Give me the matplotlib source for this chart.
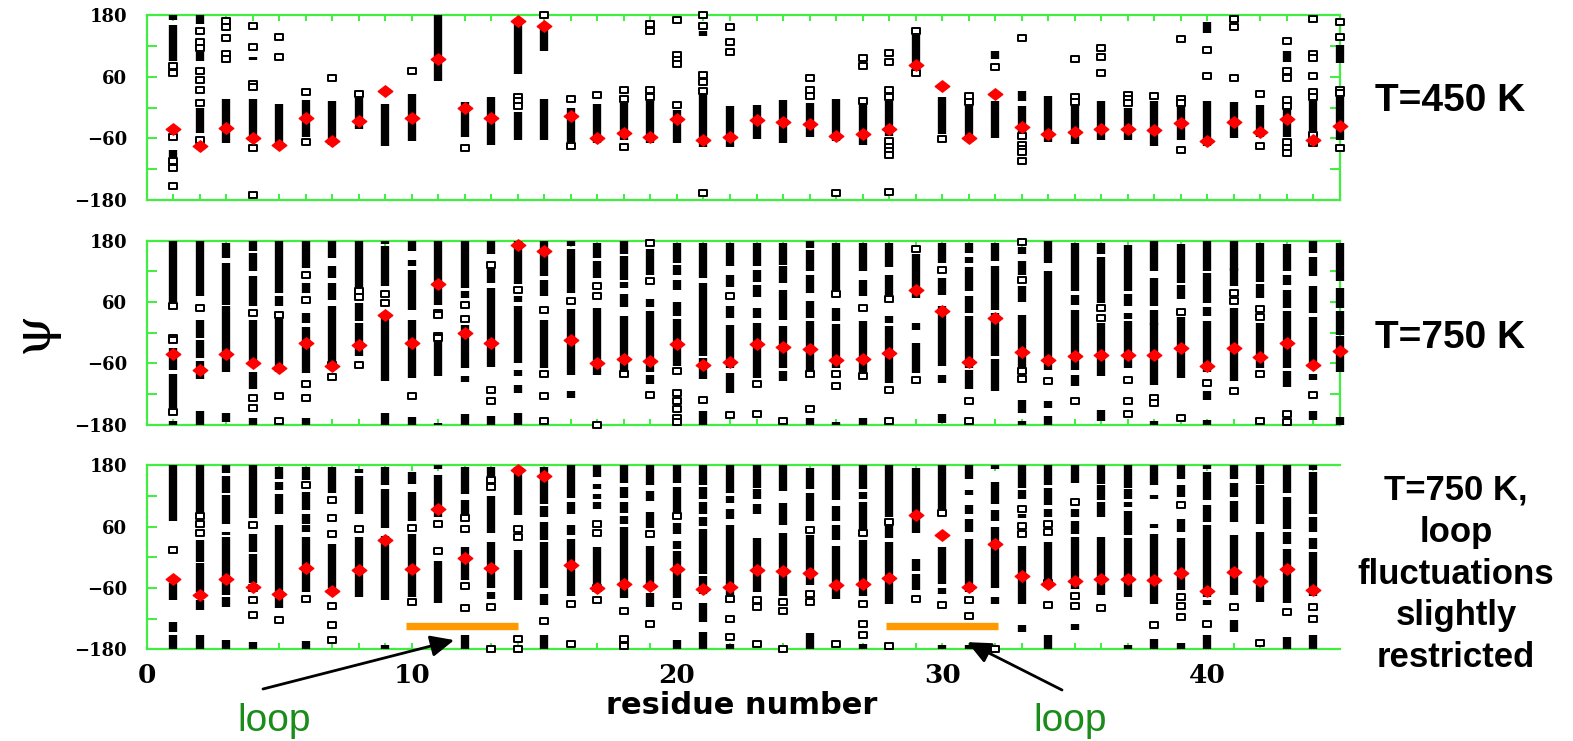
import matplotlib
matplotlib.use('Agg')
import matplotlib.pyplot as plt
from matplotlib.path import Path

# ---------------- data (psi angles in degrees) ----------------
residues_450 = list(range(1, 46))
residues_750 = list(range(1, 46))
residues_750r = list(range(1, 45))

# mean psi (red diamonds)
mean_450 = [-42, -74, -40, -59, -72, -20, -66, -26, 33, -21, 94, 0, -21, 169, 159,
            -16, -60, -50, -57, -22, -63, -58, -24, -29, -32, -55, -52, -41, 83, 42,
            -59, 26, -38, -52, -47, -42, -42, -44, -30, -66, -29, -48, -22, -63, -36]
mean_750 = [-41, -72, -41, -59, -70, -20, -65, -25, 34, -21, 95, -1, -21, 171, 160,
            -15, -59, -51, -56, -23, -63, -57, -23, -28, -31, -54, -51, -40, 84, 43,
            -58, 29, -38, -53, -46, -43, -43, -43, -30, -65, -29, -47, -21, -63, -36]
mean_750r = [-42, -74, -42, -59, -71, -21, -66, -25, 33, -23, 94, -1, -21, 170, 159,
             -16, -60, -53, -56, -23, -62, -58, -25, -27, -31, -55, -52, -40, 83, 43,
             -58, 27, -37, -53, -47, -43, -43, -44, -30, -66, -29, -47, -22, -63]

# sampled psi per residue: (high, low) = densely sampled range, number = single sample
samples_450 = [
    [(180, 170), (160, 90), 80, 68, -58, (-83, -96), -104, -117, -152],
    [(180, 162), 148, 127, 116, (108, 90), 72, 54, 35, 9, (0, -50), -63],
    [169, 156, 135, 105, 94, (16, -70)],
    [159, 118, (98, 92), 45, 40, (16, -63), -79, -170],
    [138, 98, (6, -76)],
    [31, (15, -57), -68],
    [57, (13, -73)],
    [26, (19, -41)],
    [(6, -74)],
    [71, (26, -65)],
    [(180, 52)],
    [(10, -57), -79],
    [(21, -73)],
    [(167, 66), 21, 12, 2, (-8, -63)],
    [180, (157, 109), (17, -63)],
    [17, (0, -68), -74],
    [24, (6, -70)],
    [34, 17, (9, -63), -76],
    [162, 149, 34, 20, (12, -70)],
    [170, 102, 93, 84, 4, (-4, -70)],
    [180, 159, (149, 140), 63, 49, 33, (26, -76), -166],
    [156, 127, 108, (2, -76)],
    [(4, -61)],
    [(15, -70)],
    [57, 34, 23, (9, -57)],
    [(17, -66), -166],
    [96, 81, 13, (7, -72)],
    [107, 89, 34, 20, (12, -55), -65, -77, -85, -93, -165],
    [149, (141, 73), 68],
    [(21, -52), -61],
    [22, 11, (2, -64)],
    [(109, 94), 78, (13, -59)],
    [135, (32, 13), (2, -50), -56, -72, -80, -86, -104],
    [(23, -68)],
    [94, 20, 10, (4, -71)],
    [116, 98, 68, (13, -64)],
    [24, 16, 8, (0, -64)],
    [23, (13, -75)],
    [133, 17, 8, (2, -63), -83],
    [(166, 145), 111, 61, (13, -75)],
    [173, 157, 57, (10, -59)],
    [26, (4, -57), -74],
    [129, (109, 89), 71, 57, 15, 2, (-3, -57), -68, -78, -88],
    [172, 105, 96, 62, 30, 20, (13, -45), -53, -70],
    [167, 138, (122, 86), 35, 29, (21, -63), -79],
]

samples_750 = [
    [(180, 60), 53, -10, -15, (-29, -72), (-80, -147), -156, (-172, -180)],
    [(180, 71), 48, (25, -10), (-14, -50), (-56, -90), (-153, -180)],
    [(175, 146), (136, 55), (52, -77), (-157, -175)],
    [(180, 159), (156, 120), (110, 52), 39, (25, -56), (-76, -111), -128, -147, (-167, -180)],
    [(180, 77), (71, 52), 35, (29, -76), -123, -173],
    [(180, 127), 113, (97, 77), 64, (38, 19), (12, -79), -100, -128, (-167, -180)],
    [(179, 146), (130, 107), (97, 64), (52, -59), -64, -87],
    [(180, 84), 82, 70, (58, 22), (19, -46), -63],
    [(180, 174), (169, 91), 76, 58, (39, -95), (-158, -180)],
    [(180, 159), (143, 130), (123, 45), (25, -89), -123, (-165, -180)],
    [(180, 55), 39, 35, -7, -10, (-17, -85), (-177, -180)],
    [(180, 87), (81, 68), 55, 27, (16, -69), (-85, -96), (-160, -180)],
    [(180, 154), 133, (127, 97), (88, -67), -113, -134, (-162, -180)],
    [(180, 95), 84, (71, 61), (52, -59), (-72, -84), (-102, -118), (-157, -180)],
    [(180, 110), (104, 71), 45, (25, -69), -80, -124, -173],
    [(180, 170), (164, 78), 63, (46, -82), (-115, -128)],
    [(175, 146), (141, 108), 91, 71, (48, -82), -180],
    [(180, 154), (151, 104), (100, 88), (76, 50), (32, -74), -81],
    [176, (164, 113), 102, (65, 50), (42, -76), (-82, -100), -121],
    [(176, 136), (132, 113), (104, 84), (61, 33), (27, -66), -74, -117, -133, -149, -166, -175],
    [(176, 107), (97, -46), (-49, -91), -132, (-153, -180)],
    [(176, 130), (113, 89), 72, (52, 29), (16, -69), (-78, -117), -161],
    [(176, 130), (123, 100), (94, 69), (48, 29), (19, -89), -100, -160],
    [(176, 133), (130, 97), (84, 25), (14, -69), (-75, -95), -172],
    [(180, 166), (162, 120), (113, 78), (63, 29), (22, -76), -80, -149, (-167, -180)],
    [(175, 84), 76, (48, 22), (17, -69), -81, -104, (-175, -180)],
    [(176, 120), (104, 71), 48, (22, -76), -84, (-167, -180)],
    [(176, 128), (113, 74), 65, (32, 19), (14, -98), -113, -172],
    [164, (154, 68), (19, 6), (-20, -79), -93],
    [(176, 136), 123, (108, 74), (52, -66), (-82, -98), (-160, -177)],
    [(176, 156), (148, 137), (129, 82), (71, 39), (32, -69), (-72, -111), -134, -173],
    [(176, 140), (130, 45), (39, -46), (-52, -114)],
    [178, (168, 153), (141, 113), 104, (91, 61), (35, -69), -75, -90, (-131, -157), (-173, -180)],
    [(180, 136), (120, -72), -95, (-134, -147), (-163, -180)],
    [(176, 81), (73, 55), (45, -72), (-82, -105), -134],
    [(176, 153), (148, 58), 48, 29, (19, -85), (-151, -172)],
    [(171, 81), (75, 52), (39, 26), (22, -69), -92, -134, -159],
    [(180, 120), (107, 52), (45, 16), (19, -102), -127, -138, (-173, -180)],
    [(174, 97), (94, 65), 40, (30, -89), -167],
    [(180, 120), (116, 58), (50, 32), (22, -76), -99, (-114, -131), (-170, -180)],
    [(180, 120), (127, 91), 78, 63, (48, -95), -114],
    [(176, 100), (95, 68), 46, 30, (19, -69), -81, -172],
    [(174, 120), (113, 94), (84, 48), (42, -69), (-75, -107), -159, -175],
    [(180, 156), (148, 110), (91, 39), (30, -69), (-80, -92), -121, (-153, -170)],
    [(176, 101), (88, 48), (42, -4), (-7, -76), (-165, -180)],
]

samples_750r = [
    [(180, 72), 14, (-51, -84), (-126, -146), (-153, -180)],
    [(180, 85), 80, 66, 48, (33, -9), (-12, -68), (-84, -104), (-153, -180)],
    [(180, 164), (160, 125), (121, 66), (50, 43), (39, -74), (-78, -98), (-162, -180)],
    [(180, 76), 63, (46, 10), (7, -51), -61, -84, -113, (-166, -180)],
    [(176, 154), (147, 131), (123, 85), (63, -100), -123],
    [(176, 151), 141, (128, 92), (84, 66), (63, 50), (39, -68), -81, (-164, -180)],
    [(176, 125), 112, 77, 46, (27, -61), -96, -133, -162],
    [(173, 164), (160, 85), 56, (39, -78)],
    [(176, 141), (134, 57), (42, -84), (-172, -180)],
    [(167, 144), (128, 72), 57, (46, -78), -87],
    [(180, 172), (162, 78), 66, 13, (-8, -89)],
    [(176, 123), (112, 82), 77, 56, (20, -45), -57, -100, (-153, -180)],
    [(176, 160), 151, 137, (120, 48), (30, -61), (-68, -81), -97, -180],
    [(176, 82), 56, 39, (15, -84), -159, -180],
    [(176, 104), (101, 79), (69, 33), (30, -61), (-71, -94), -125, (-153, -180)],
    [(180, 117), (108, 85), (63, 43), (35, -76), -92, -170],
    [(180, 157), (144, 134), (124, 115), (108, 95), 66, 48, (20, -52), -61, -84],
    [(180, 146), (137, 117), (108, 87), (81, 66), (59, -79), -105, -159, -174],
    [(180, 141), (130, 110), (89, 58), 45, (22, -62), (-69, -97), -130],
    [(180, 146), (137, 87), 80, (67, 46), (32, 16), (13, -79), -96, (-162, -180)],
    [(180, 141), (137, 114), (108, 85), (78, 62), (56, -33), (-36, -71), (-90, -126), (-146, -180)],
    [(180, 125), (120, 106), (94, 74), (63, -77), -81, -121, -156, (-170, -180)],
    [(180, 136), (133, 115), (104, 85), (37, -68), -83, -97, -170],
    [(180, 130), (107, 64), (48, -76), -87, -106, -180],
    [(174, 134), (125, 72), 53, (43, -55), -71, -87, (-149, -180)],
    [(180, 113), (100, 72), (63, 33), (22, -81), -170],
    [(180, 134), (128, 115), (108, 53), 48, (33, -76), -91, -130, -153, (-170, -180)],
    [(180, 78), 69, (63, 37), (30, -91), -173],
    [(174, 48), (-3, -26), (-32, -64), -81],
    [(180, 95), 87, (20, -52), (-61, -71), -94, (-172, -180)],
    [(180, 154), (131, 121), (102, 85), (75, 50), (35, -68), -84, -115, (-172, -180)],
    [(180, 173), (148, 105), (92, 72), (59, -60), (-77, -91), -180],
    [(180, 136), (131, 115), 95, (85, 76), 61, 45, (22, -92), (-133, -146)],
    [(180, 141), (135, 102), (95, 79), 66, 50, (30, -45), -51, -94, (-153, -180)],
    [(180, 146), 108, (94, 78), (71, 46), (39, -62), -76, -96, (-130, -143)],
    [(180, 143), (141, 112), (108, 78), (39, -74), -100],
    [(180, 136), (134, 114), (108, 98), (91, 43), (37, -78), (-172, -180)],
    [(180, 141), (121, 114), (66, 57), (46, -91), -133, (-159, -180)],
    [(180, 154), (141, 118), 102, (75, 50), (37, -63), -78, -96, -116, (-167, -180)],
    [(180, 173), (167, 112), (102, 69), (63, -78), (-84, -94), -131, (-153, -180)],
    [(180, 154), (146, 118), (111, 69), (43, -73), -98, (-123, -146)],
    [(180, 143), (141, 66), (50, -87), -167],
    [(180, 125), (118, 56), (50, 27), (17, -89), -108, (-155, -180)],
    [(180, 170), (167, 85), (78, 50), (37, 17), (10, -76), -97, -120, (-153, -180)],
]

loop_ranges = [(9.8, 14.0), (27.9, 32.1)]
loop_bar_psi = -134
loop_arrow_tips = [(11.6, -162), (30.95, -166)]

panel_labels = ['T=450 K', 'T=750 K', 'T=750 K,\nloop\nfluctuations\nslightly\nrestricted']
ytick_vals = [-180, -120, -60, 0, 60, 120, 180]
ytick_labels = ['\u2212180', '', '\u221260', '', '60', '', '180']
xtick_major = [0, 10, 20, 30, 40]

# ---------------- figure ----------------
W, H = 1573, 741
fig = plt.figure(figsize=(W / 100, H / 100), dpi=100)


def fx(p):
    return p / W


def fy(p):
    return 1 - p / H


GREEN = '#40ee40'
SQ = Path([(-1, -0.62), (1, -0.62), (1, 0.62), (-1, 0.62), (-1, -0.62)],
          [Path.MOVETO, Path.LINETO, Path.LINETO, Path.LINETO, Path.CLOSEPOLY])
DIA = Path([(0, 0.78), (1, 0), (0, -0.78), (-1, 0), (0, 0.78)],
           [Path.MOVETO, Path.LINETO, Path.LINETO, Path.LINETO, Path.CLOSEPOLY])

panel_px = [(15, 200), (240.7, 424.7), (465.3, 649.3)]
left_px, right_px = 146.5, 1340
datasets = [(residues_450, mean_450, samples_450),
            (residues_750, mean_750, samples_750),
            (residues_750r, mean_750r, samples_750r)]

axes = []
for k, ((top, bot), (res, means, samples)) in enumerate(zip(panel_px, datasets)):
    ax = fig.add_axes([fx(left_px), fy(bot), (right_px - left_px) / W, (bot - top) / H])
    axes.append(ax)
    ax.set_xlim(0, 45)
    ax.set_ylim(-180, 180)
    for s in ax.spines.values():
        s.set_color(GREEN)
        s.set_linewidth(1.6)
        s.set_zorder(1)
    if k == 2:
        ax.spines['right'].set_visible(False)

    ax.set_yticks(ytick_vals)
    ax.set_yticklabels(ytick_labels, fontfamily='DejaVu Serif', fontweight='bold', fontsize=13)
    ax.tick_params(axis='y', direction='in', length=7, width=1.4, color=GREEN,
                   left=True, right=(k != 2), pad=14)
    ax.set_xticks(xtick_major)
    ax.set_xticks(list(range(1, 45)), minor=True)
    ax.tick_params(axis='x', which='both', direction='in', length=4, width=1.4, color=GREEN,
                   top=True, bottom=True)
    if k == 2:
        ax.set_xticklabels([str(v) for v in xtick_major], fontfamily='DejaVu Serif',
                           fontweight='bold', fontsize=19)
        ax.tick_params(axis='x', pad=10)
    else:
        ax.set_xticklabels([])

    bx, blo, bhi, px, py = [], [], [], [], []
    for r, col in zip(res, samples):
        for item in col:
            if isinstance(item, tuple):
                bx.append(r)
                bhi.append(item[0])
                blo.append(item[1])
            else:
                px.append(r)
                py.append(item)
    lc = ax.vlines(bx, blo, bhi, colors='black', linewidth=6.0, zorder=3, clip_on=False)
    lc.set_capstyle('butt')
    ax.plot(px, py, ls='none', marker=SQ, ms=6.3, mfc='white', mec='black', mew=1.4,
            zorder=4, clip_on=False)
    ax.plot(res, means, ls='none', marker=DIA, ms=10.5, color='#ff0000', mec='#ff0000',
            zorder=5, clip_on=False)

# loop bars in the bottom panel
ax3 = axes[2]
for x0, x1 in loop_ranges:
    ax3.plot([x0, x1], [loop_bar_psi, loop_bar_psi], color='#ff9900', lw=5.3,
             solid_capstyle='butt', zorder=6)

# arrows and 'loop' labels
loop_text_px = [(274, 721), (1070, 721)]
arrow_start_px = [(263, 689), (1062, 690)]
for (tx, ty), (sx, sy), tip in zip(loop_text_px, arrow_start_px, loop_arrow_tips):
    fig.text(fx(tx), fy(ty), 'loop', color='#1a8c1a', fontsize=28,
             fontfamily='Liberation Sans', ha='center', va='center')
    ax3.annotate('', xy=tip, xycoords='data', xytext=(fx(sx), fy(sy)),
                 textcoords='figure fraction', annotation_clip=False,
                 arrowprops=dict(arrowstyle='-|>,head_length=1.1,head_width=0.5',
                                 color='black', lw=2.0, mutation_scale=13,
                                 shrinkA=0, shrinkB=0))

# panel labels on the right
fig.text(fx(1450), fy(101), panel_labels[0], fontsize=28, fontweight='bold',
         fontfamily='Liberation Sans', ha='center', va='center')
fig.text(fx(1450), fy(338), panel_labels[1], fontsize=28, fontweight='bold',
         fontfamily='Liberation Sans', ha='center', va='center')
fig.text(fx(1456), fy(574), panel_labels[2], fontsize=25, fontweight='bold',
         fontfamily='Liberation Sans', ha='center', va='center',
         multialignment='center', linespacing=1.34)

# axis titles
fig.text(fx(33), fy(332), '\u03c8', fontsize=38, fontfamily='DejaVu Serif',
         rotation=90, ha='center', va='center')
fig.text(fx(742), fy(706), 'residue number', fontsize=22, fontweight='bold',
         fontfamily='DejaVu Sans', ha='center', va='center')

fig.savefig('out.png', dpi=100)
